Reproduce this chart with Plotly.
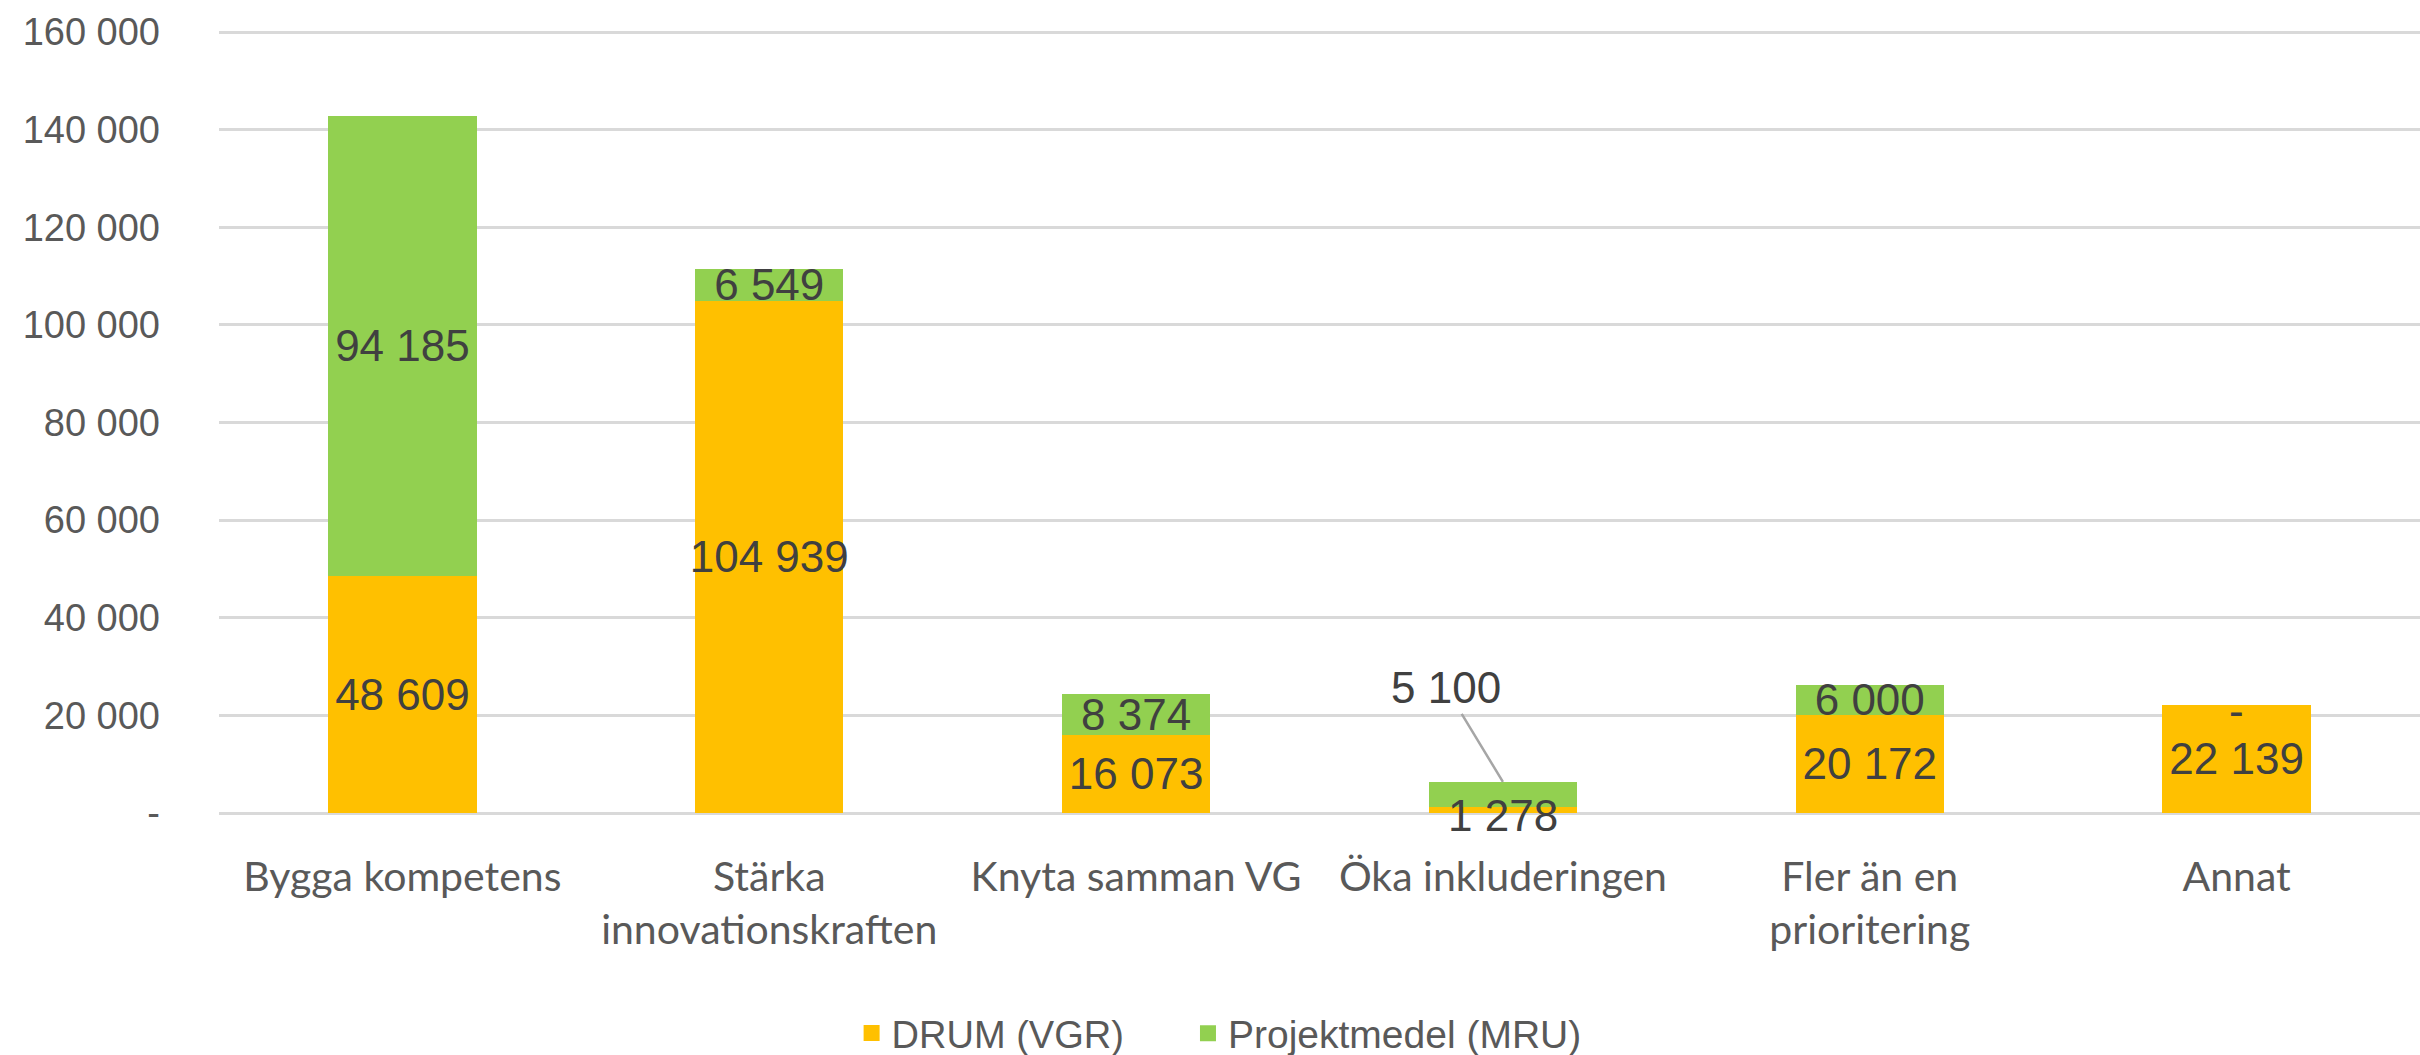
import plotly.graph_objects as go

categories = ["Bygga kompetens", "Stärka<br>innovationskraften", "Knyta samman VG",
              "Öka inkluderingen", "Fler än en<br>prioritering", "Annat"]
drum_vgr = [48609, 104939, 16073, 1278, 20172, 22139]
projekt_mru = [94185, 6549, 8374, 5100, 6000, 0]
series_names = ["DRUM (VGR)", "Projektmedel (MRU)"]
y_tick_vals = [0, 20000, 40000, 60000, 80000, 100000, 120000, 140000, 160000]
y_tick_text = ["-", "20 000", "40 000", "60 000", "80 000", "100 000", "120 000", "140 000", "160 000"]


def fmt(v):
    return "-" if v == 0 else f"{v:,}".replace(",", " ")


YELLOW = "#FFC000"
GREEN = "#92D050"
LABEL = "#404040"
AXIS = "#595959"
FONT = "Liberation Sans, Arial, sans-serif"
LSIZE = 44

i_oka = 3   # small bar: labels drawn as annotations on top
i_ann = 5   # zero green segment

drum_text = [fmt(v) if i != i_oka else "" for i, v in enumerate(drum_vgr)]
proj_text = [fmt(v) if i not in (i_oka, i_ann) else "" for i, v in enumerate(projekt_mru)]

fig = go.Figure()
fig.add_trace(go.Bar(
    x=categories, y=drum_vgr, name=series_names[0], marker=dict(color=YELLOW, line=dict(width=0)),
    text=drum_text, textposition="inside", insidetextanchor="middle", textangle=0,
    textfont=dict(size=LSIZE, color=LABEL, family=FONT), showlegend=False,
))
fig.add_trace(go.Bar(
    x=categories, y=projekt_mru, name=series_names[1], marker=dict(color=GREEN, line=dict(width=0)),
    text=proj_text, textposition="inside", insidetextanchor="middle", textangle=0,
    textfont=dict(size=LSIZE, color=LABEL, family=FONT), showlegend=False,
))
# legend proxies (larger square swatches), one legend box per series
for nm, col, lg in zip(series_names, [YELLOW, GREEN], ["legend", "legend2"]):
    fig.add_trace(go.Scatter(
        x=[None], y=[None], mode="markers", name=nm, legend=lg,
        marker=dict(symbol="square", size=25, color=col), showlegend=True,
    ))

# outside label with leader line for small green segment
fig.add_annotation(
    x=categories[i_oka], y=drum_vgr[i_oka] + projekt_mru[i_oka], text=fmt(projekt_mru[i_oka]),
    showarrow=True, arrowhead=0, arrowwidth=2.5, arrowcolor="#A6A6A6",
    ax=-57, ay=-94, font=dict(size=LSIZE, color=LABEL, family=FONT),
)
# small yellow segment label, centered on the segment
fig.add_annotation(
    x=categories[i_oka], y=drum_vgr[i_oka] / 2, text=fmt(drum_vgr[i_oka]),
    showarrow=False, yanchor="middle", yshift=-6, font=dict(size=LSIZE, color=LABEL, family=FONT),
)
# zero-value label for Annat
fig.add_annotation(
    x=categories[i_ann], y=drum_vgr[i_ann] + projekt_mru[i_ann], text=fmt(projekt_mru[i_ann]),
    showarrow=False, yanchor="top", yshift=21, font=dict(size=LSIZE, color=LABEL, family=FONT),
)

legend_common = dict(orientation="h", xref="container", yref="container",
                     xanchor="left", y=0.0205, yanchor="middle",
                     bgcolor="rgba(0,0,0,0)")

fig.update_layout(
    width=2420, height=1055,
    barmode="stack", bargap=0.596,
    plot_bgcolor="white", paper_bgcolor="white",
    margin=dict(l=219, r=0, t=30, b=240, autoexpand=False),
    font=dict(family=FONT, color=AXIS),
    uniformtext=dict(minsize=LSIZE, mode="show"),
    legend=dict(x=0.3519, font=dict(size=38, color=AXIS, family=FONT), **legend_common),
    legend2=dict(x=0.4909, font=dict(size=39, color=AXIS, family=FONT), **legend_common),
    showlegend=True,
)
fig.update_yaxes(
    range=[-410, 160410], tickvals=y_tick_vals, ticktext=y_tick_text,
    showgrid=True, gridcolor="#D9D9D9", gridwidth=2.5, zeroline=False,
    showline=False, tickfont=dict(size=38, color=AXIS, family=FONT),
    ticks="", ticklabelstandoff=58, automargin=False,
)
fig.update_xaxes(
    showgrid=False, showline=False, ticks="",
    tickfont=dict(size=41, color=AXIS, family="Lato, sans-serif"),
    ticklabelstandoff=34, tickangle=0, automargin=False,
)

fig.write_html("out.html", config={"displayModeBar": False},
               post_script="document.body.style.margin='0';document.body.style.overflow='hidden';")
